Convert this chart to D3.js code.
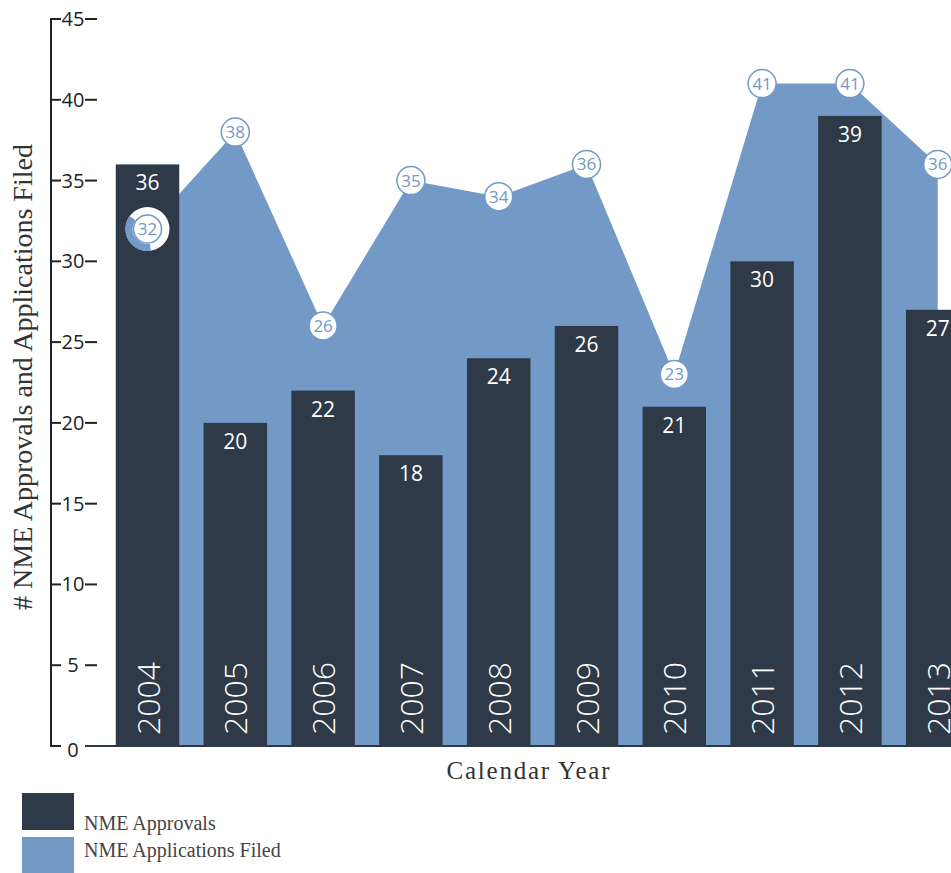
<!DOCTYPE html>
<html>
<head>
<meta charset="utf-8">
<script src="https://cdn.jsdelivr.net/npm/d3@7"></script>
<style>
	body { margin: 0; background: #fff; overflow: hidden; }
	svg { display: block; }
</style>
</head>
<body>
<svg id="chart" width="951" height="873"></svg>
<script>
var years = ["2004", "2005", "2006", "2007", "2008", "2009", "2010", "2011", "2012", "2013"];
var approvals = [36, 20, 22, 18, 24, 26, 21, 30, 39, 27];
var filed = [32, 38, 26, 35, 34, 36, 23, 41, 41, 36];
var y_ticks = [0, 5, 10, 15, 20, 25, 30, 35, 40, 45];
var legend_labels = ["NME Approvals", "NME Applications Filed"];

var dark = "#2e3a47";
var blue = "#7399c6";
var serif = "'Liberation Serif', 'Times New Roman', serif";
var sans = "'Open Sans', 'Noto Sans', sans-serif";

var svg = d3.select("#chart");

var y = d3.scaleLinear().domain([0, 45]).range([746, 19]);
var x = d3.scaleBand().domain(years).range([103.6, 981.6]).paddingInner(0.277).paddingOuter(0.1385);

function center(year) {
	return x(year) + x.bandwidth() / 2;
}

// filed applications as an area behind the bars
var area = d3.area()
	.x(function(d, i) { return center(years[i]); })
	.y0(y(0))
	.y1(function(d) { return y(d); });

svg.append("path")
	.datum(filed)
	.attr("d", area)
	.attr("fill", blue);

svg.selectAll(".bar")
	.data(approvals)
	.enter().append("rect")
	.attr("class", "bar")
	.attr("x", function(d, i) { return x(years[i]); })
	.attr("y", function(d) { return y(d); })
	.attr("width", x.bandwidth())
	.attr("height", function(d) { return y(0) - y(d); })
	.attr("fill", dark);

// baseline under the bars
svg.append("line")
	.attr("x1", 85).attr("x2", 951)
	.attr("y1", y(0)).attr("y2", y(0))
	.attr("stroke", dark).attr("stroke-width", 2);

svg.selectAll(".bar_value")
	.data(approvals)
	.enter().append("text")
	.attr("class", "bar_value")
	.attr("x", function(d, i) { return center(years[i]); })
	.attr("y", function(d) { return y(d) + 26; })
	.attr("text-anchor", "middle")
	.attr("font-family", sans)
	.attr("font-size", 21)
	.attr("fill", "#fff")
	.text(function(d) { return d; });

svg.selectAll(".year")
	.data(years)
	.enter().append("text")
	.attr("class", "year")
	.attr("transform", function(d) {
		return "translate(" + (center(d) + 12) + "," + (y(0) - 11) + ") rotate(-90)";
	})
	.attr("font-family", sans)
	.attr("font-weight", 300)
	.attr("font-size", 32)
	.attr("fill", "#fff")
	.text(function(d) { return d; });

// markers on the filed series, the first one still has its ring
var first = svg.append("g")
	.attr("transform", "translate(" + center(years[0]) + "," + y(filed[0]) + ")");
first.append("circle").attr("r", 22).attr("fill", "#fff");
first.append("path")
	.attr("d", d3.arc()({innerRadius: 15, outerRadius: 22, startAngle: Math.PI * 0.95, endAngle: Math.PI * 1.7}))
	.attr("fill", blue);

var markers = svg.selectAll(".marker")
	.data(filed)
	.enter().append("g")
	.attr("class", "marker")
	.attr("transform", function(d, i) { return "translate(" + center(years[i]) + "," + y(d) + ")"; });

markers.append("circle")
	.attr("r", 14)
	.attr("fill", "#fff")
	.attr("stroke", blue)
	.attr("stroke-width", 1.5);

markers.append("text")
	.attr("text-anchor", "middle")
	.attr("dy", "0.35em")
	.attr("font-family", sans)
	.attr("font-size", 17)
	.attr("fill", blue)
	.text(function(d) { return d; });

// y axis
var axis = svg.append("g");
axis.append("line")
	.attr("x1", 51).attr("x2", 51)
	.attr("y1", y(45)).attr("y2", y(0))
	.attr("stroke", "#222").attr("stroke-width", 2);

var ticks = axis.selectAll(".tick")
	.data(y_ticks)
	.enter().append("g")
	.attr("class", "tick")
	.attr("transform", function(d) { return "translate(0," + y(d) + ")"; });

ticks.append("line")
	.attr("x1", 50).attr("x2", 61)
	.attr("stroke", "#222").attr("stroke-width", 2);

ticks.filter(function(d) { return d > 0; }).append("line")
	.attr("x1", 85).attr("x2", 97)
	.attr("stroke", "#222").attr("stroke-width", 2);

ticks.append("text")
	.attr("x", 73)
	.attr("dy", function(d) { return d == 0 ? "0.55em" : "0.35em"; })
	.attr("text-anchor", "middle")
	.attr("font-family", sans)
	.attr("font-size", 20)
	.attr("fill", "#222")
	.text(function(d) { return d; });

svg.append("text")
	.attr("transform", "translate(32,377) rotate(-90)")
	.attr("text-anchor", "middle")
	.attr("font-family", serif)
	.attr("font-size", 28)
	.attr("fill", "#333")
	.text("# NME Approvals and Applications Filed");

svg.append("text")
	.attr("x", 528)
	.attr("y", 779)
	.attr("text-anchor", "middle")
	.attr("font-family", serif)
	.attr("font-size", 25)
	.attr("textLength", 163)
	.attr("lengthAdjust", "spacing")
	.attr("fill", "#333")
	.text("Calendar Year");

// legend
var legend = svg.selectAll(".legend")
	.data(legend_labels)
	.enter().append("g")
	.attr("class", "legend")
	.attr("transform", function(d, i) { return "translate(22," + (793 + i * 44) + ")"; });

legend.append("rect")
	.attr("width", 52)
	.attr("height", 37)
	.attr("fill", function(d, i) { return i == 0 ? dark : blue; });

legend.append("text")
	.attr("x", 62)
	.attr("y", function(d, i) { return i == 0 ? 37 : 20; })
	.attr("font-family", serif)
	.attr("font-size", 20)
	.attr("fill", "#444")
	.text(function(d) { return d; });
</script>
</body>
</html>
